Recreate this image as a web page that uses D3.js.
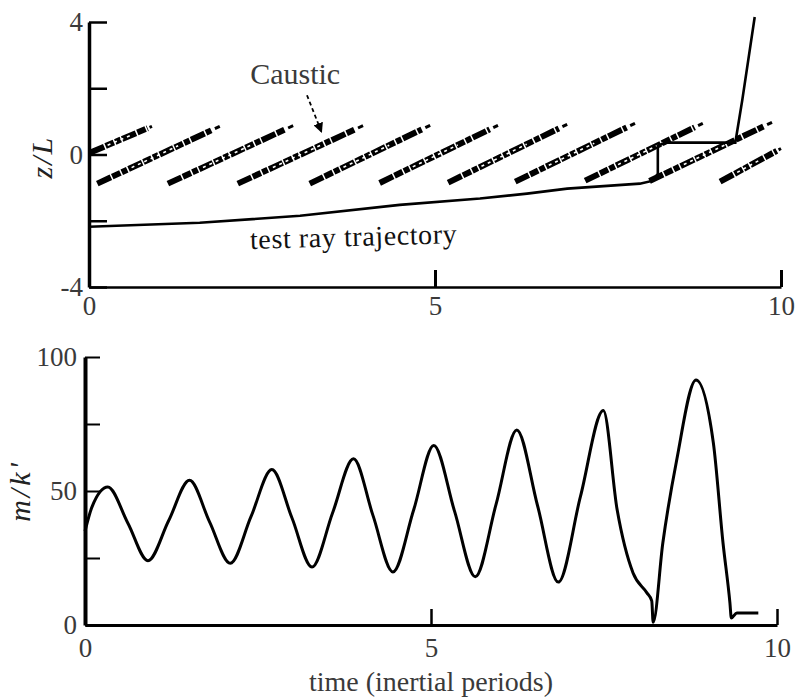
<!DOCTYPE html>
<html>
<head>
<meta charset="utf-8">
<script src="https://cdn.jsdelivr.net/npm/d3@7"></script>
<style>
  body { margin: 0; background: #fff; }
  svg { display: block; }
  text { font-family: "Liberation Serif", "Times New Roman", serif; }
</style>
</head>
<body>
<svg id="chart" width="798" height="698"></svg>
<script>
// ---- Upper panel: test ray trajectory in (time, z/L)
const rayTime = [0, 1.6, 3.05, 4.49, 5.65, 6.33, 6.91, 7.96, 8.15, 8.22, 8.22, 8.35, 9.34, 9.44, 9.62];
const rayZ    = [-2.18, -2.06, -1.85, -1.52, -1.33, -1.18, -1.03, -0.88, -0.79, -0.58, 0.27, 0.36, 0.36, 1.64, 4.15];

// Caustic strands: start (t0, z0) to end (t1, z1)
const causticT0 = [0.02, 0.12, 1.14, 2.15, 3.19, 4.20, 5.19, 6.16, 7.17, 8.10, 9.12];
const causticZ0 = [0.06, -0.88, -0.88, -0.88, -0.88, -0.86, -0.85, -0.82, -0.79, -0.80, -0.82];
const causticT1 = [0.91, 1.89, 2.95, 3.96, 4.93, 5.91, 6.91, 7.89, 8.87, 9.87, 10.0];
const causticZ1 = [0.85, 0.85, 0.87, 0.87, 0.88, 0.88, 0.91, 0.94, 0.94, 0.97, 0.18];

// ---- Lower panel: m/k' against time
const mkTime = [0, 0.1, 0.33, 0.62, 0.91, 1.21, 1.51, 1.8, 2.1, 2.4, 2.7, 2.99, 3.28, 3.58, 3.88, 4.16, 4.45,
                4.75, 5.04, 5.34, 5.64, 5.94, 6.24, 6.54, 6.84, 7.16, 7.49, 7.69, 7.92, 8.12, 8.19, 8.21,
                8.35, 8.55, 8.83, 9.08, 9.22, 9.32, 9.34, 9.42, 9.73];
const mkValue = [35, 44, 51.5, 38, 24, 39, 54, 38.5, 23, 40.5, 58, 40, 21.6, 42, 62, 41, 19.8,
                 43, 67, 42.5, 18, 45, 72.8, 44.5, 16, 48, 80, 43, 19.4, 12, 9, 1,
                 30.6, 61.5, 91.4, 68, 30.6, 8.2, 2.6, 4.5, 4.5];

// ---- Axis ticks and labels
const topXTicks = [0, 5, 10];
const topYTicks = [-4, -2, 0, 2, 4];
const topYLabels = [-4, 0, 4];
const botXTicks = [0, 5, 10];
const botYTicks = [0, 25, 50, 75, 100];
const botYLabels = [0, 50, 100];

const svg = d3.select("#chart");

const xTop = d3.scaleLinear().domain([0, 10]).range([89, 781]);
const yTop = d3.scaleLinear().domain([-4, 4]).range([287, 22]);
const xBot = d3.scaleLinear().domain([0, 10]).range([85, 777]);
const yBot = d3.scaleLinear().domain([0, 100]).range([625, 357]);

function styleAxis(g, domainWidth, tickWidth) {
  g.select(".domain").attr("stroke", "#000").attr("stroke-width", domainWidth);
  g.selectAll(".tick line").attr("stroke", "#000").attr("stroke-width", tickWidth);
  g.selectAll(".tick text")
    .attr("font-size", 27)
    .attr("fill", "#3a3a3a")
    .style("font-family", '"Liberation Serif", "Times New Roman", serif');
}

// ---------- upper panel axes
svg.append("g")
  .attr("transform", `translate(0,${yTop(-4)})`)
  .call(d3.axisBottom(xTop).tickValues(topXTicks).tickSize(-17).tickSizeOuter(0).tickPadding(9)
        .tickFormat(d3.format("d")))
  .call(g => styleAxis(g, 2.5, 3));

svg.append("g")
  .attr("transform", `translate(${xTop(0)},0)`)
  .call(d3.axisLeft(yTop).tickValues(topYTicks).tickSize(-18).tickSizeOuter(0).tickPadding(6)
        .tickFormat(d => topYLabels.includes(d) ? String(d) : ""))
  .call(g => styleAxis(g, 3.5, 2.5));

// ---------- caustic strands
const strands = causticT0.map((t0, i) => ({
  x0: xTop(t0), y0: yTop(causticZ0[i]),
  x1: xTop(causticT1[i]), y1: yTop(causticZ1[i])
}));
const lerp = (s, f) => [s.x0 + (s.x1 - s.x0) * f, s.y0 + (s.y1 - s.y0) * f];

const cg = svg.append("g");
strands.forEach(s => {
  const a = lerp(s, 0), b = lerp(s, 0.93), c = lerp(s, 0.96), d = lerp(s, 1);
  cg.append("line")
    .attr("x1", a[0]).attr("y1", a[1]).attr("x2", b[0]).attr("y2", b[1])
    .attr("stroke", "#000").attr("stroke-width", 6)
    .attr("stroke-dasharray", "15,1.5,9,1.5,6,1.5");
  cg.append("line")
    .attr("x1", c[0]).attr("y1", c[1]).attr("x2", d[0]).attr("y2", d[1])
    .attr("stroke", "#000").attr("stroke-width", 3);
  // hollow middle section
  const m0 = lerp(s, 0.28), m1 = lerp(s, 0.66);
  cg.append("line")
    .attr("x1", m0[0]).attr("y1", m0[1]).attr("x2", m1[0]).attr("y2", m1[1])
    .attr("stroke", "#fff").attr("stroke-width", 1.6)
    .attr("stroke-dasharray", "3,4");
});

// ---------- test ray trajectory
const rayLine = d3.line().x(d => xTop(d[0])).y(d => yTop(d[1]));
svg.append("path")
  .datum(rayTime.map((t, i) => [t, rayZ[i]]))
  .attr("d", rayLine)
  .attr("fill", "none").attr("stroke", "#000").attr("stroke-width", 2.6)
  .attr("stroke-linejoin", "miter");

// ---------- annotations
svg.append("text")
  .attr("x", xTop(2.98)).attr("y", yTop(2.12))
  .attr("text-anchor", "middle").attr("font-size", 30).attr("fill", "#3a3a3a")
  .text("Caustic");

svg.append("defs").append("marker")
  .attr("id", "arrow").attr("viewBox", "0 0 10 10").attr("refX", 9).attr("refY", 5)
  .attr("markerWidth", 10).attr("markerHeight", 10).attr("orient", "auto")
  .attr("markerUnits", "userSpaceOnUse")
  .append("path").attr("d", "M0,0L10,5L0,10Z").attr("fill", "#000");

svg.append("line")
  .attr("x1", xTop(3.15)).attr("y1", yTop(1.79))
  .attr("x2", xTop(3.36)).attr("y2", yTop(0.68))
  .attr("stroke", "#000").attr("stroke-width", 1.8)
  .attr("stroke-dasharray", "4,3")
  .attr("marker-end", "url(#arrow)");

svg.append("text")
  .attr("transform", `translate(${xTop(2.33)},${yTop(-2.85)}) rotate(-1.6)`)
  .attr("font-size", 28).attr("fill", "#111").attr("letter-spacing", 0.6)
  .text("test ray trajectory");

svg.append("text")
  .attr("transform", `translate(52,${yTop(-0.08)}) rotate(-90)`)
  .attr("text-anchor", "middle").attr("font-size", 30).attr("font-style", "italic")
  .attr("letter-spacing", 2).attr("fill", "#222")
  .text("z/L");

// ---------- lower panel axes
svg.append("g")
  .attr("transform", `translate(0,${yBot(0)})`)
  .call(d3.axisBottom(xBot).tickValues(botXTicks).tickSize(-16).tickSizeOuter(0).tickPadding(13)
        .tickFormat(d3.format("d")))
  .call(g => styleAxis(g, 3, 2.5));

svg.append("g")
  .attr("transform", `translate(${xBot(0)},0)`)
  .call(d3.axisLeft(yBot).tickValues(botYTicks).tickSize(-15).tickSizeOuter(0).tickPadding(8)
        .tickFormat(d => botYLabels.includes(d) ? String(d) : ""))
  .call(g => styleAxis(g, 4, 2));

// ---------- m/k' curve
const mkLine = d3.line().curve(d3.curveMonotoneX).x(d => xBot(d[0])).y(d => yBot(d[1]));
svg.append("path")
  .datum(mkTime.map((t, i) => [t, mkValue[i]]))
  .attr("d", mkLine)
  .attr("fill", "none").attr("stroke", "#000").attr("stroke-width", 3)
  .attr("stroke-linejoin", "round");

svg.append("text")
  .attr("transform", `translate(30,${yBot(50)}) rotate(-90)`)
  .attr("text-anchor", "middle").attr("font-size", 30).attr("font-style", "italic")
  .attr("letter-spacing", 3).attr("fill", "#222")
  .text("m/k'");

svg.append("text")
  .attr("x", xBot(5)).attr("y", 691)
  .attr("text-anchor", "middle").attr("font-size", 28).attr("fill", "#3a3a3a")
  .text("time (inertial periods)");
</script>
</body>
</html>
